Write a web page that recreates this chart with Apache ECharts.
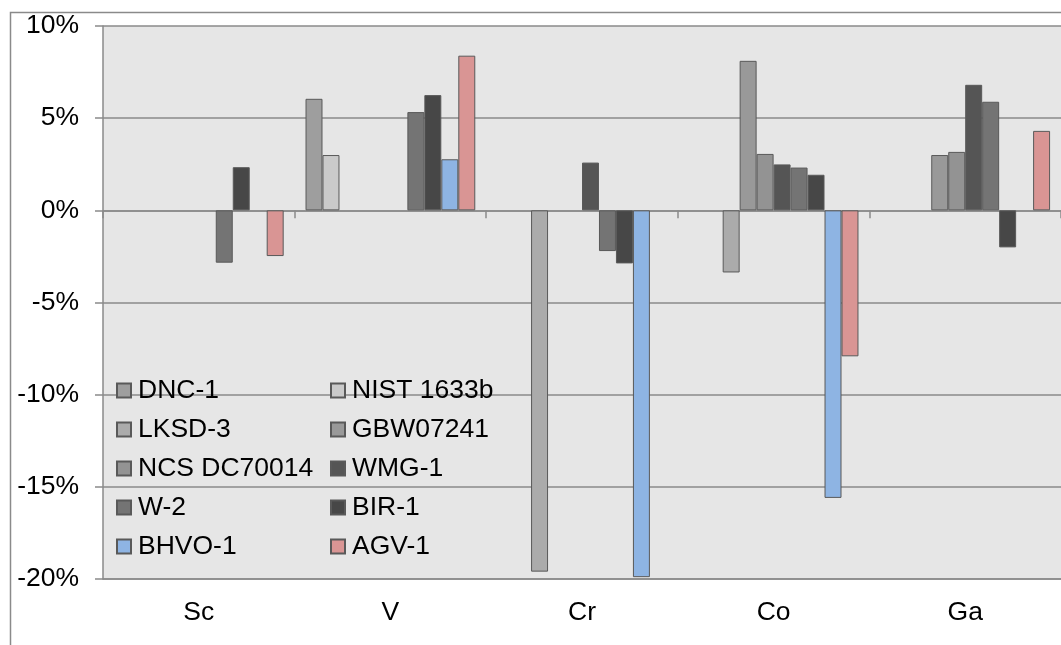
<!DOCTYPE html>
<html>
<head>
<meta charset="utf-8">
<script src="https://cdn.jsdelivr.net/npm/echarts@6/dist/echarts.min.js"></script>
<style>
html,body{margin:0;padding:0;background:#fff;}
#chart{width:1061px;height:645px;}
</style>
</head>
<body>
<div id="chart"></div>
<script>
const categories = ['Sc', 'V', 'Cr', 'Co', 'Ga'];
const seriesNames = ['DNC-1', 'NIST 1633b', 'LKSD-3', 'GBW07241', 'NCS DC70014', 'WMG-1', 'W-2', 'BIR-1', 'BHVO-1', 'AGV-1'];
const dnc1      = [null, 6.05, null, null, null];
const nist1633b = [null, 3.0, null, null, null];
const lksd3     = [null, null, -19.6, -3.37, null];
const gbw07241  = [null, null, null, 8.11, 3.0];
const ncsDC     = [null, null, null, 3.06, 3.17];
const wmg1      = [null, null, 2.59, 2.49, 6.81];
const w2        = [-2.84, 5.33, -2.21, 2.32, 5.89];
const bir1      = [2.34, 6.25, -2.88, 1.93, -2.01];
const bhvo1     = [null, 2.77, -19.9, -15.6, null];
const agv1      = [-2.48, 8.39, null, -7.92, 4.31];
const seriesValues = [dnc1, nist1633b, lksd3, gbw07241, ncsDC, wmg1, w2, bir1, bhvo1, agv1];
const seriesColors = ['#9e9e9e', '#cacaca', '#ababab', '#999999', '#939393', '#555555', '#747474', '#474747', '#8eb4e3', '#d99594'];
const yTicks = { min: -20, max: 10, interval: 5 };

const FONT = "'Liberation Sans', Arial, sans-serif";
const FS = 26.5;
const chart = echarts.init(document.getElementById('chart'), null, { renderer: 'canvas' });

const series = seriesNames.map((name, i) => ({
  name: name,
  type: 'bar',
  xAxisIndex: 0,
  data: seriesValues[i],
  barGap: '0%',
  barCategoryGap: '11.4%',
  itemStyle: { color: seriesColors[i], borderColor: '#595959', borderWidth: 1 },
  emphasis: { disabled: true },
  animation: false
}));

const legendText = { fontFamily: FONT, fontSize: FS, color: '#000', padding: [0, 0, 0, 2] };
chart.setOption({
  animation: false,
  backgroundColor: '#ffffff',
  graphic: [{
    type: 'rect', left: 8, top: 10, z: -1,
    shape: { x: 0, y: 0, width: 1200, height: 800 },
    style: { fill: 'none', stroke: '#8a8a8a', lineWidth: 1.5 },
    silent: true
  }],
  grid: { left: 103, top: 26, width: 964, height: 553, containLabel: false, backgroundColor: '#e6e6e6', show: true, borderWidth: 0 },
  legend: [{
    orient: 'vertical', left: 116, top: 377, itemGap: 12, padding: 0,
    itemWidth: 14, itemHeight: 14, icon: 'rect',
    data: [seriesNames[0], seriesNames[2], seriesNames[4], seriesNames[6], seriesNames[8]],
    textStyle: legendText, selectedMode: false
  }, {
    orient: 'vertical', left: 330, top: 377, itemGap: 12, padding: 0,
    itemWidth: 14, itemHeight: 14, icon: 'rect',
    data: [seriesNames[1], seriesNames[3], seriesNames[5], seriesNames[7], seriesNames[9]],
    textStyle: legendText, selectedMode: false
  }],
  xAxis: [{
    type: 'category', data: categories, position: 'bottom',
    axisLine: { show: true, onZero: false, lineStyle: { color: '#8a8a8a', width: 1.5 } },
    axisTick: { show: false },
    axisLabel: { fontFamily: FONT, fontSize: FS, color: '#000', margin: 20 },
    splitLine: { show: false }
  }, {
    type: 'category', data: categories, position: 'bottom',
    axisLine: { show: true, onZero: true, lineStyle: { color: '#8a8a8a', width: 1.5 } },
    axisTick: { show: true, length: 8, lineStyle: { color: '#8a8a8a', width: 1.5 } },
    axisLabel: { show: false },
    splitLine: { show: false }
  }],
  yAxis: {
    type: 'value', min: yTicks.min, max: yTicks.max, interval: yTicks.interval,
    axisLine: { show: true, lineStyle: { color: '#8a8a8a', width: 1.5 } },
    axisTick: { show: true, length: 8, lineStyle: { color: '#8a8a8a', width: 1.5 } },
    axisLabel: { fontFamily: FONT, fontSize: FS, color: '#000', margin: 24, formatter: '{value}%' },
    splitLine: { show: true, lineStyle: { color: '#8a8a8a', width: 1.5 } }
  },
  series: series
});
</script>
</body>
</html>
